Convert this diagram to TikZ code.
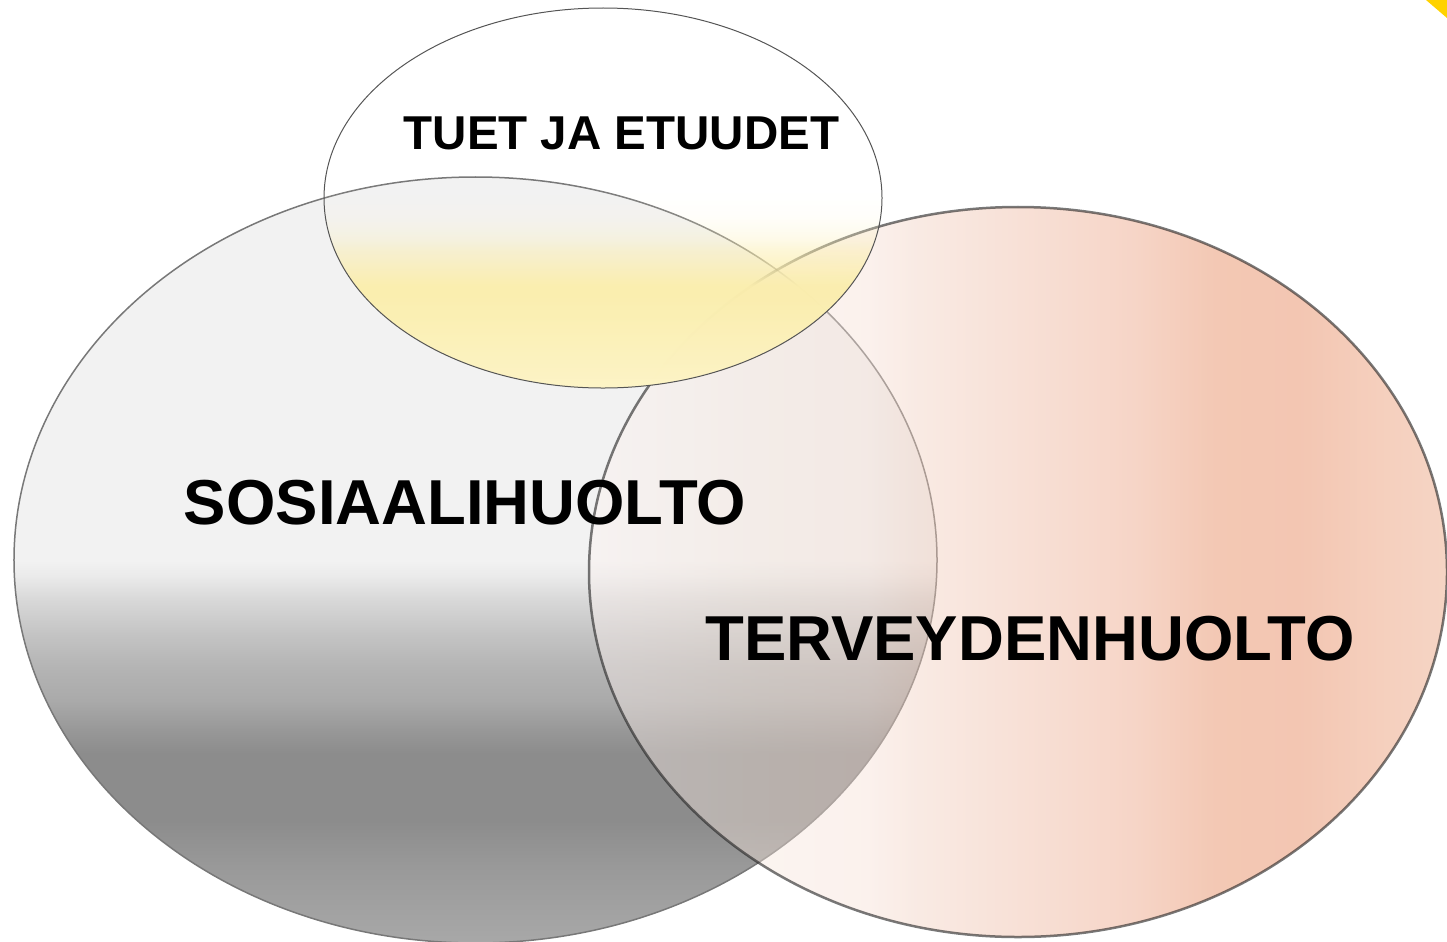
\documentclass[tikz,border=0pt]{standalone}
\usepackage{fontspec}
\setmainfont{Liberation Sans}
\usetikzlibrary{fadings}
\definecolor{goldc}{RGB}{255,210,0}
\definecolor{greyline}{RGB}{120,120,120}
\definecolor{yelline}{RGB}{85,85,85}
\pgfdeclareverticalshading{greyshade}{100bp}{%
rgb(0bp)=(0.659,0.659,0.659);
rgb(25bp)=(0.659,0.659,0.659);
rgb(30bp)=(0.600,0.600,0.600);
rgb(33bp)=(0.549,0.549,0.549);
rgb(37.4bp)=(0.549,0.549,0.549);
rgb(38.7bp)=(0.588,0.588,0.588);
rgb(40.85bp)=(0.667,0.667,0.667);
rgb(43bp)=(0.706,0.706,0.706);
rgb(45.2bp)=(0.769,0.769,0.769);
rgb(47.4bp)=(0.847,0.847,0.847);
rgb(49bp)=(0.922,0.922,0.922);
rgb(50bp)=(0.949,0.949,0.949);
rgb(100bp)=(0.949,0.949,0.949)}
\pgfdeclarehorizontalshading{pinkshade}{100bp}{%
rgb(0bp)=(0.992,0.953,0.945);
rgb(25bp)=(0.992,0.953,0.945);
rgb(35bp)=(0.961,0.898,0.859);
rgb(41.2bp)=(0.961,0.871,0.831);
rgb(43.8bp)=(0.945,0.812,0.749);
rgb(50.25bp)=(0.933,0.710,0.616);
rgb(56.7bp)=(0.918,0.608,0.478);
rgb(61.55bp)=(0.886,0.486,0.298);
rgb(66.35bp)=(0.886,0.467,0.282);
rgb(71.15bp)=(0.906,0.553,0.384);
rgb(75bp)=(0.906,0.600,0.451);
rgb(100bp)=(0.906,0.600,0.451)}
\pgfdeclareverticalshading{yelshade}{100bp}{%
rgb(0bp)=(0.992,0.957,0.776);
rgb(25bp)=(0.992,0.957,0.776);
rgb(37.2bp)=(0.984,0.933,0.682);
rgb(43.2bp)=(0.984,0.933,0.682);
rgb(52bp)=(1,1,1);
rgb(100bp)=(1,1,1)}
\pgfdeclareverticalshading{yelfadeshade}{100bp}{%
color(0bp)=(pgftransparent!0);
color(25bp)=(pgftransparent!0);
color(38.5bp)=(pgftransparent!2);
color(41.2bp)=(pgftransparent!30);
color(44.5bp)=(pgftransparent!65);
color(47.8bp)=(pgftransparent!88);
color(52.4bp)=(pgftransparent!100);
color(100bp)=(pgftransparent!100)}
\pgfdeclarefading{yelfade}{\pgfuseshading{yelfadeshade}}
\tikzset{
  biglabel/.style={font=\bfseries\fontsize{63.5bp}{70bp}\selectfont, anchor=base, inner sep=0pt},
  smalllabel/.style={font=\bfseries\fontsize{47.5bp}{54bp}\selectfont, anchor=base, inner sep=0pt},
  greyedge/.style={draw=greyline, line width=1.5bp},
  pinkedge/.style={draw=black!88, draw opacity=0.6, line width=2.5bp},
  yeledge/.style={draw=yelline, line width=1bp}
}
\begin{document}
\begin{tikzpicture}[x=1bp,y=-1bp]
\useasboundingbox (0,0) rectangle (1447,941);
\clip (0,0) rectangle (1447,941);
% social care ellipse
\shade[shading=greyshade] (475.5,560) ellipse [x radius=461.5bp, y radius=383bp];
\path[greyedge] (475.5,560) ellipse [x radius=461.5bp, y radius=383bp];
% health care ellipse
\shade[shading=pinkshade, fill opacity=0.42] (1018,572) ellipse [x radius=429bp, y radius=365bp];
\path[pinkedge] (1018,572) ellipse [x radius=429bp, y radius=365bp];
% benefits ellipse
\shade[shading=yelshade, path fading=yelfade] (603,198) ellipse [x radius=279bp, y radius=190bp];
\path[yeledge] (603,198) ellipse [x radius=279bp, y radius=190bp];
% corner shape
\fill[goldc] (1426,0) -- (1447,0) -- (1447,18) -- cycle;
% labels
\node[smalllabel] (tuet) at (621.5,149) {TUET JA ETUUDET};
\node[biglabel] (sos) at (465,524) {SOSIAALIHUOLTO};
\node[biglabel] (terv) at (1030,660) {TERVEYDENHUOLTO};
\end{tikzpicture}
\end{document}
